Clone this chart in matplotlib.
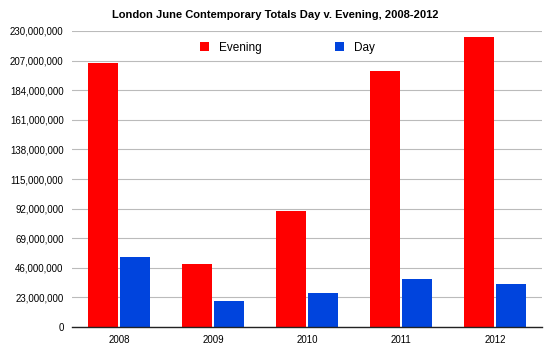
import matplotlib
matplotlib.use("Agg")
import matplotlib.pyplot as plt
import numpy as np

years = ["2008", "2009", "2010", "2011", "2012"]
evening = [205e6, 49e6, 90e6, 199e6, 225e6]
day = [54.5e6, 20.5e6, 26.5e6, 37.5e6, 33.5e6]
yticks = [0, 23e6, 46e6, 69e6, 92e6, 115e6, 138e6, 161e6, 184e6, 207e6, 230e6]

plt.rcParams['font.family'] = ['Liberation Sans', 'DejaVu Sans']
fig = plt.figure(figsize=(5.5, 3.46), dpi=100)
ax = fig.add_axes([72/550, 1-327/346, 470/550, 296/346])

x = np.arange(len(years))
w = 0.32
ax.bar(x - 0.175, evening, w, color="#ff0000", label="Evening", zorder=3)
ax.bar(x + 0.175, day, w, color="#0044dd", label="Day", zorder=3)

ax.set_xlim(-0.5, 4.5)
ax.set_ylim(0, 230e6)
ax.set_yticks(yticks)
ax.set_yticklabels([f"{int(v):,}" for v in yticks], fontsize=7)
ax.set_xticks(x)
ax.set_xticklabels(years, fontsize=7)
ax.tick_params(length=0, pad=6)
ax.yaxis.grid(True, color="#bbbbbb", linewidth=0.8, zorder=0)
for s in ["left", "right", "top"]:
    ax.spines[s].set_visible(False)
ax.spines["bottom"].set_color("#222222")
ax.spines["bottom"].set_linewidth(1.0)
ax.spines["bottom"].set_zorder(4)

fig.text(0.5, 1-15/346, "London June Contemporary Totals Day v. Evening, 2008-2012",
         ha="center", va="center", fontsize=8, fontweight="bold")
ax.legend(loc="upper center", bbox_to_anchor=(0.458, 1.0), ncol=2, frameon=False,
          fontsize=8.5, handlelength=0.8, handleheight=0.8, columnspacing=6.2)

fig.savefig("out.png", dpi=100)
